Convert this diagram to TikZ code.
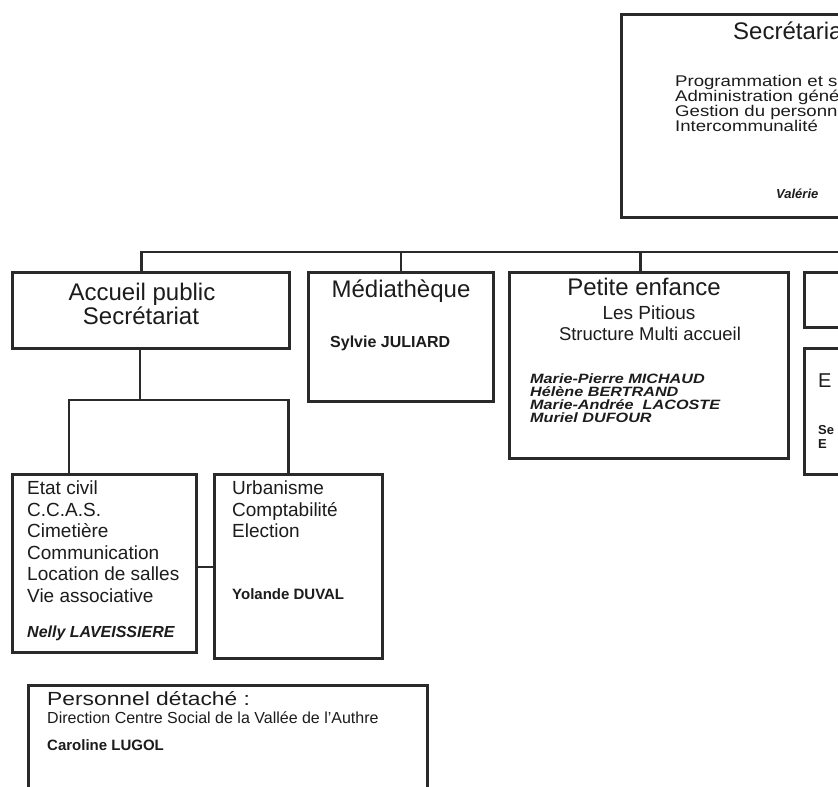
\documentclass[tikz,border=0pt]{standalone}
\usepackage{fontspec}
\setmainfont{Liberation Sans}
\newfontfamily\wf[FakeStretch=1.2]{Liberation Sans}
\definecolor{linec}{HTML}{2A2A2A}
\definecolor{textc}{HTML}{1C1C1C}
\tikzset{
  box/.style={draw=linec, line width=2.6pt, rectangle, inner sep=0pt, anchor=north west},
  conn/.style={draw=linec, line width=2.4pt},
  txt/.style={inner sep=0pt, text=textc, text height=0.72em, text depth=0.2em},
  lt/.style={txt, anchor=west},
  ct/.style={txt, anchor=center},
  big/.style={font=\fontsize{24}{26}\selectfont},
  mid/.style={font=\fontsize{19}{20}\selectfont},
  sec/.style={font=\wf\fontsize{15.5}{16}\selectfont},
  nm/.style={font=\fontsize{#1}{#1}\selectfont\bfseries\itshape},
  nmw/.style={font=\wf\fontsize{#1}{#1}\selectfont\bfseries\itshape},
  nb/.style={font=\fontsize{#1}{#1}\selectfont\bfseries},
}
\begin{document}
\begin{tikzpicture}[x=1pt,y=-1pt]
\useasboundingbox (0,0) rectangle (838,787);
\fill[white] (0,0) rectangle (838,787);
\clip (0,0) rectangle (838,787);

% boxes
\node[box, minimum width=320pt, minimum height=203pt] (secr) at (620,13) {};
\node[box, minimum width=277pt, minimum height=76pt] (accueil) at (11,271) {};
\node[box, minimum width=185pt, minimum height=129pt] (media) at (307,271) {};
\node[box, minimum width=279pt, minimum height=186pt] (petite) at (508,271) {};
\node[box, minimum width=120pt, minimum height=55pt] (right1) at (803,271) {};
\node[box, minimum width=120pt, minimum height=126pt] (right2) at (803,347) {};
\node[box, minimum width=184pt, minimum height=178pt] (etat) at (11,473) {};
\node[box, minimum width=168pt, minimum height=184pt] (urba) at (213,473) {};
\node[box, minimum width=399pt, minimum height=150pt] (perso) at (27,684) {};

% connectors
\coordinate (busR) at (900,252);
\coordinate (tee) at (140,400);
\coordinate (link) at (204,567);
\draw[conn] ([xshift=-9.5pt]accueil.north) |- (busR);
\draw[conn] (media.north) -- (media.north |- busR);
\draw[conn] ([xshift=-8.5pt]petite.north) -- ([xshift=-8.5pt]petite.north |- busR);
\draw[conn] (tee |- accueil.south) -- (tee);
\draw[conn] ([xshift=-35.5pt]etat.north) |- ([xshift=-10pt]urba.north |- tee) -- ([xshift=-10pt]urba.north);
\draw[conn] (etat.east |- link) -- (urba.west |- link);

% top box texts
\node[lt, big] (secrT) at (733,37) {Secrétariat};
\node[lt, sec] (secr1) at (675,84) {Programmation et s};
\node[lt, sec] (secr2) at (675,99) {Administration générale};
\node[lt, sec] (secr3) at (675,114) {Gestion du personnel};
\node[lt, sec] (secr4) at (675,129) {Intercommunalité};
\node[lt, nm=13] (secrN) at (776,196) {Valérie};

% accueil
\node[ct, big] (acc1) at (142,298) {Accueil public};
\node[ct, big] (acc2) at (141,322) {Secrétariat};

% mediatheque
\node[ct, big] (med1) at (401,295) {Médiathèque};
\node[lt, nb=16] (med2) at (330,345) {Sylvie JULIARD};

% petite enfance
\node[ct, big] (pe1) at (644,293) {Petite enfance};
\node[ct, font=\fontsize{19}{20}\selectfont] (pe2) at (649,317) {Les Pitious};
\node[ct, font=\fontsize{18.5}{20}\selectfont] (pe3) at (650,338) {Structure Multi accueil};
\node[lt, nmw=13.5] (pe4) at (530,381) {Marie-Pierre MICHAUD};
\node[lt, nmw=13.5] (pe5) at (530,394) {Hélène BERTRAND};
\node[lt, nmw=13.5] (pe6) at (530,407) {Marie-Andrée\ \ LACOSTE};
\node[lt, nmw=13.5] (pe7) at (530,420) {Muriel DUFOUR};

% right clipped box
\node[lt, font=\fontsize{20}{22}\selectfont] (r1) at (818,385) {E};
\node[lt, nb=13] (r2) at (818,432) {Se};
\node[lt, nb=13] (r3) at (818,446) {E};

% etat civil
\node[lt, mid] (e1) at (27,492) {Etat civil};
\node[lt, mid] (e2) at (27,513.5) {C.C.A.S.};
\node[lt, mid] (e3) at (27,535) {Cimetière};
\node[lt, mid] (e4) at (27,556.5) {Communication};
\node[lt, mid] (e5) at (27,578) {Location de salles};
\node[lt, mid] (e6) at (27,599.5) {Vie associative};
\node[lt, nm=16] (e7) at (27,635) {Nelly LAVEISSIERE};

% urbanisme
\node[lt, mid] (u1) at (232,492) {Urbanisme};
\node[lt, mid] (u2) at (232,513.5) {Comptabilité};
\node[lt, mid] (u3) at (232,535) {Election};
\node[lt, nb=15] (u4) at (232,597) {Yolande DUVAL};

% personnel detache
\node[lt, font=\wf\fontsize{19}{21}\selectfont] (p1) at (47,703) {Personnel détaché :};
\node[lt, font=\fontsize{16}{17}\selectfont] (p2) at (47,721) {Direction Centre Social de la Vallée de l'Authre};
\node[lt, nb=15] (p3) at (47,748) {Caroline LUGOL};
\end{tikzpicture}
\end{document}
